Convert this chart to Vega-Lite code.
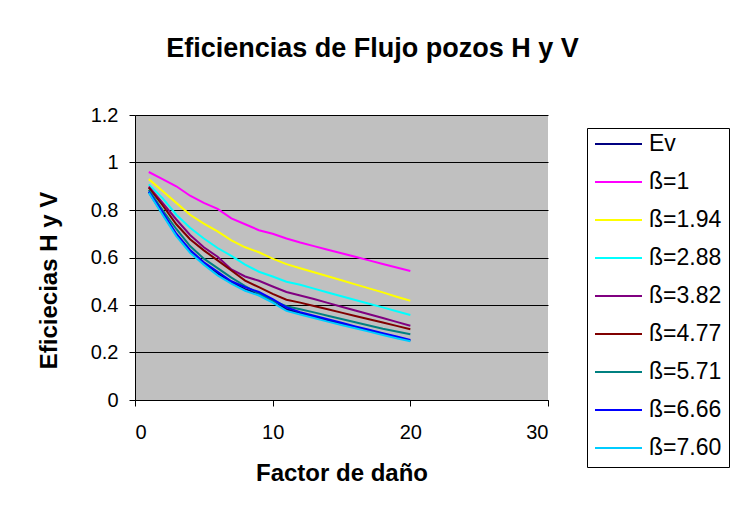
{
  "$schema": "https://vega.github.io/schema/vega-lite/v6.json",
  "width": 413,
  "height": 285,
  "autosize": {"type": "none"},
  "padding": {"left": 135, "top": 115, "right": 186, "bottom": 111},
  "background": "white",
  "title": {
    "text": "Eficiencias de Flujo pozos H y V",
    "font": "Liberation Sans",
    "fontSize": 27,
    "fontWeight": "bold",
    "color": "black",
    "anchor": "middle",
    "baseline": "alphabetic",
    "dx": 31,
    "offset": 21
  },
  "data": {
    "values": [
      {"s":1,"serie":"Ev","e":0.875},{"s":2,"serie":"Ev","e":0.785},{"s":3,"serie":"Ev","e":0.695},{"s":4,"serie":"Ev","e":0.625},{"s":5,"serie":"Ev","e":0.575},{"s":6,"serie":"Ev","e":0.532},{"s":7,"serie":"Ev","e":0.495},{"s":8,"serie":"Ev","e":0.467},{"s":9,"serie":"Ev","e":0.447},{"s":10,"serie":"Ev","e":0.42},{"s":11,"serie":"Ev","e":0.382},{"s":12,"serie":"Ev","e":0.365},{"s":13,"serie":"Ev","e":0.35},{"s":14,"serie":"Ev","e":0.335},{"s":15,"serie":"Ev","e":0.32},{"s":16,"serie":"Ev","e":0.306},{"s":17,"serie":"Ev","e":0.292},{"s":18,"serie":"Ev","e":0.278},{"s":19,"serie":"Ev","e":0.264},{"s":20,"serie":"Ev","e":0.25},
      {"s":1,"serie":"ß=1","e":0.96},{"s":2,"serie":"ß=1","e":0.93},{"s":3,"serie":"ß=1","e":0.90},{"s":4,"serie":"ß=1","e":0.86},{"s":5,"serie":"ß=1","e":0.83},{"s":6,"serie":"ß=1","e":0.805},{"s":7,"serie":"ß=1","e":0.765},{"s":8,"serie":"ß=1","e":0.74},{"s":9,"serie":"ß=1","e":0.715},{"s":10,"serie":"ß=1","e":0.70},{"s":11,"serie":"ß=1","e":0.68},{"s":12,"serie":"ß=1","e":0.663},{"s":13,"serie":"ß=1","e":0.648},{"s":14,"serie":"ß=1","e":0.633},{"s":15,"serie":"ß=1","e":0.618},{"s":16,"serie":"ß=1","e":0.603},{"s":17,"serie":"ß=1","e":0.588},{"s":18,"serie":"ß=1","e":0.573},{"s":19,"serie":"ß=1","e":0.558},{"s":20,"serie":"ß=1","e":0.543},
      {"s":1,"serie":"ß=1.94","e":0.93},{"s":2,"serie":"ß=1.94","e":0.88},{"s":3,"serie":"ß=1.94","e":0.83},{"s":4,"serie":"ß=1.94","e":0.78},{"s":5,"serie":"ß=1.94","e":0.743},{"s":6,"serie":"ß=1.94","e":0.71},{"s":7,"serie":"ß=1.94","e":0.672},{"s":8,"serie":"ß=1.94","e":0.643},{"s":9,"serie":"ß=1.94","e":0.622},{"s":10,"serie":"ß=1.94","e":0.595},{"s":11,"serie":"ß=1.94","e":0.572},{"s":12,"serie":"ß=1.94","e":0.555},{"s":13,"serie":"ß=1.94","e":0.538},{"s":14,"serie":"ß=1.94","e":0.521},{"s":15,"serie":"ß=1.94","e":0.504},{"s":16,"serie":"ß=1.94","e":0.487},{"s":17,"serie":"ß=1.94","e":0.47},{"s":18,"serie":"ß=1.94","e":0.453},{"s":19,"serie":"ß=1.94","e":0.435},{"s":20,"serie":"ß=1.94","e":0.418},
      {"s":1,"serie":"ß=2.88","e":0.908},{"s":2,"serie":"ß=2.88","e":0.85},{"s":3,"serie":"ß=2.88","e":0.78},{"s":4,"serie":"ß=2.88","e":0.725},{"s":5,"serie":"ß=2.88","e":0.68},{"s":6,"serie":"ß=2.88","e":0.64},{"s":7,"serie":"ß=2.88","e":0.607},{"s":8,"serie":"ß=2.88","e":0.57},{"s":9,"serie":"ß=2.88","e":0.54},{"s":10,"serie":"ß=2.88","e":0.52},{"s":11,"serie":"ß=2.88","e":0.498},{"s":12,"serie":"ß=2.88","e":0.485},{"s":13,"serie":"ß=2.88","e":0.469},{"s":14,"serie":"ß=2.88","e":0.453},{"s":15,"serie":"ß=2.88","e":0.437},{"s":16,"serie":"ß=2.88","e":0.421},{"s":17,"serie":"ß=2.88","e":0.405},{"s":18,"serie":"ß=2.88","e":0.39},{"s":19,"serie":"ß=2.88","e":0.374},{"s":20,"serie":"ß=2.88","e":0.358},
      {"s":1,"serie":"ß=3.82","e":0.898},{"s":2,"serie":"ß=3.82","e":0.83},{"s":3,"serie":"ß=3.82","e":0.76},{"s":4,"serie":"ß=3.82","e":0.695},{"s":5,"serie":"ß=3.82","e":0.643},{"s":6,"serie":"ß=3.82","e":0.603},{"s":7,"serie":"ß=3.82","e":0.55},{"s":8,"serie":"ß=3.82","e":0.52},{"s":9,"serie":"ß=3.82","e":0.502},{"s":10,"serie":"ß=3.82","e":0.478},{"s":11,"serie":"ß=3.82","e":0.455},{"s":12,"serie":"ß=3.82","e":0.44},{"s":13,"serie":"ß=3.82","e":0.425},{"s":14,"serie":"ß=3.82","e":0.409},{"s":15,"serie":"ß=3.82","e":0.393},{"s":16,"serie":"ß=3.82","e":0.377},{"s":17,"serie":"ß=3.82","e":0.361},{"s":18,"serie":"ß=3.82","e":0.345},{"s":19,"serie":"ß=3.82","e":0.329},{"s":20,"serie":"ß=3.82","e":0.313},
      {"s":1,"serie":"ß=4.77","e":0.894},{"s":2,"serie":"ß=4.77","e":0.82},{"s":3,"serie":"ß=4.77","e":0.74},{"s":4,"serie":"ß=4.77","e":0.677},{"s":5,"serie":"ß=4.77","e":0.63},{"s":6,"serie":"ß=4.77","e":0.588},{"s":7,"serie":"ß=4.77","e":0.545},{"s":8,"serie":"ß=4.77","e":0.503},{"s":9,"serie":"ß=4.77","e":0.475},{"s":10,"serie":"ß=4.77","e":0.447},{"s":11,"serie":"ß=4.77","e":0.422},{"s":12,"serie":"ß=4.77","e":0.41},{"s":13,"serie":"ß=4.77","e":0.396},{"s":14,"serie":"ß=4.77","e":0.382},{"s":15,"serie":"ß=4.77","e":0.368},{"s":16,"serie":"ß=4.77","e":0.354},{"s":17,"serie":"ß=4.77","e":0.34},{"s":18,"serie":"ß=4.77","e":0.326},{"s":19,"serie":"ß=4.77","e":0.312},{"s":20,"serie":"ß=4.77","e":0.298},
      {"s":1,"serie":"ß=5.71","e":0.884},{"s":2,"serie":"ß=5.71","e":0.80},{"s":3,"serie":"ß=5.71","e":0.72},{"s":4,"serie":"ß=5.71","e":0.648},{"s":5,"serie":"ß=5.71","e":0.595},{"s":6,"serie":"ß=5.71","e":0.555},{"s":7,"serie":"ß=5.71","e":0.515},{"s":8,"serie":"ß=5.71","e":0.48},{"s":9,"serie":"ß=5.71","e":0.447},{"s":10,"serie":"ß=5.71","e":0.418},{"s":11,"serie":"ß=5.71","e":0.395},{"s":12,"serie":"ß=5.71","e":0.382},{"s":13,"serie":"ß=5.71","e":0.369},{"s":14,"serie":"ß=5.71","e":0.355},{"s":15,"serie":"ß=5.71","e":0.341},{"s":16,"serie":"ß=5.71","e":0.327},{"s":17,"serie":"ß=5.71","e":0.314},{"s":18,"serie":"ß=5.71","e":0.30},{"s":19,"serie":"ß=5.71","e":0.288},{"s":20,"serie":"ß=5.71","e":0.277},
      {"s":1,"serie":"ß=6.66","e":0.877},{"s":2,"serie":"ß=6.66","e":0.79},{"s":3,"serie":"ß=6.66","e":0.70},{"s":4,"serie":"ß=6.66","e":0.632},{"s":5,"serie":"ß=6.66","e":0.58},{"s":6,"serie":"ß=6.66","e":0.54},{"s":7,"serie":"ß=6.66","e":0.50},{"s":8,"serie":"ß=6.66","e":0.475},{"s":9,"serie":"ß=6.66","e":0.455},{"s":10,"serie":"ß=6.66","e":0.425},{"s":11,"serie":"ß=6.66","e":0.39},{"s":12,"serie":"ß=6.66","e":0.37},{"s":13,"serie":"ß=6.66","e":0.355},{"s":14,"serie":"ß=6.66","e":0.34},{"s":15,"serie":"ß=6.66","e":0.325},{"s":16,"serie":"ß=6.66","e":0.31},{"s":17,"serie":"ß=6.66","e":0.296},{"s":18,"serie":"ß=6.66","e":0.281},{"s":19,"serie":"ß=6.66","e":0.267},{"s":20,"serie":"ß=6.66","e":0.253},
      {"s":1,"serie":"ß=7.60","e":0.873},{"s":2,"serie":"ß=7.60","e":0.78},{"s":3,"serie":"ß=7.60","e":0.69},{"s":4,"serie":"ß=7.60","e":0.62},{"s":5,"serie":"ß=7.60","e":0.57},{"s":6,"serie":"ß=7.60","e":0.525},{"s":7,"serie":"ß=7.60","e":0.49},{"s":8,"serie":"ß=7.60","e":0.46},{"s":9,"serie":"ß=7.60","e":0.44},{"s":10,"serie":"ß=7.60","e":0.41},{"s":11,"serie":"ß=7.60","e":0.375},{"s":12,"serie":"ß=7.60","e":0.36},{"s":13,"serie":"ß=7.60","e":0.345},{"s":14,"serie":"ß=7.60","e":0.33},{"s":15,"serie":"ß=7.60","e":0.316},{"s":16,"serie":"ß=7.60","e":0.302},{"s":17,"serie":"ß=7.60","e":0.288},{"s":18,"serie":"ß=7.60","e":0.274},{"s":19,"serie":"ß=7.60","e":0.26},{"s":20,"serie":"ß=7.60","e":0.247}
    ]
  },
  "mark": {"type": "line", "strokeWidth": 2},
  "encoding": {
    "x": {
      "field": "s", "type": "quantitative",
      "scale": {"domain": [0, 30], "nice": false},
      "axis": {"values": [0, 10, 20, 30], "title": "Factor de daño", "grid": false, "labelPadding": 16, "titleY": 80, "titleBaseline": "alphabetic"}
    },
    "y": {
      "field": "e", "type": "quantitative",
      "scale": {"domain": [0, 1.2], "nice": false},
      "axis": {"values": [0, 0.2, 0.4, 0.6, 0.8, 1, 1.2], "format": ".1~f", "title": "Eficiecias H y V", "grid": true, "labelPadding": 11, "titleX": -86, "titleY": 165, "titleBaseline": "middle", "titleAlign": "center"}
    },
    "color": {
      "field": "serie", "type": "nominal",
      "scale": {
        "domain": ["Ev", "ß=1", "ß=1.94", "ß=2.88", "ß=3.82", "ß=4.77", "ß=5.71", "ß=6.66", "ß=7.60"],
        "range": ["#000080", "#FF00FF", "#FFFF00", "#00FFFF", "#800080", "#800000", "#008080", "#0000FF", "#00CCFF"]
      },
      "legend": {
        "title": null,
        "orient": "none",
        "legendX": 452,
        "legendY": 13,
        "symbolType": "stroke",
        "symbolSize": 2209,
        "symbolStrokeWidth": 2,
        "clipHeight": 18,
        "labelFontSize": 23,
        "labelFont": "Liberation Sans",
        "labelColor": "black",
        "labelOffset": 6,
        "rowPadding": 15,
        "padding": 7,
        "strokeColor": "black",
        "fillColor": "white"
      }
    }
  },
  "config": {
    "view": {"fill": "#C0C0C0", "stroke": null},
    "axis": {
      "domainColor": "black",
      "tickColor": "black",
      "gridColor": "black",
      "gridOpacity": 1,
      "gridWidth": 1,
      "tickSize": 6,
      "labelFont": "Liberation Sans",
      "labelFontSize": 20,
      "labelColor": "black",
      "titleFont": "Liberation Sans",
      "titleFontSize": 24,
      "titleFontWeight": "bold",
      "titleColor": "black"
    }
  }
}
